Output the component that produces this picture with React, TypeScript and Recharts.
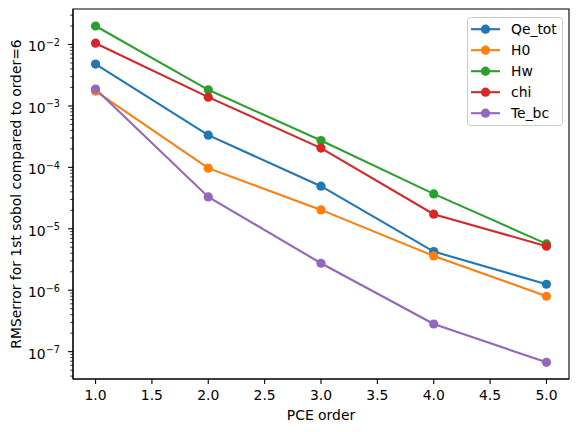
import React from "react";
import {
  LineChart,
  Line,
  XAxis,
  YAxis,
  Legend,
  ReferenceArea,
} from "recharts";

const ORDERS = [1, 2, 3, 4, 5];

const QE_TOT = [4.8e-3, 3.34e-4, 4.94e-5, 4.26e-6, 1.25e-6];
const H0 = [1.74e-3, 9.7e-5, 2.03e-5, 3.62e-6, 7.98e-7];
const HW = [2.0e-2, 1.83e-3, 2.73e-4, 3.7e-5, 5.68e-6];
const CHI = [1.05e-2, 1.39e-3, 2.06e-4, 1.73e-5, 5.21e-6];
const TE_BC = [1.88e-3, 3.3e-5, 2.75e-6, 2.82e-7, 6.7e-8];

const X_TICKS = [1.0, 1.5, 2.0, 2.5, 3.0, 3.5, 4.0, 4.5, 5.0];
const Y_MAJOR = [1e-7, 1e-6, 1e-5, 1e-4, 1e-3, 1e-2];

const X_DOMAIN: [number, number] = [0.8, 5.2];
const Y_DOMAIN: [number, number] = [3.59e-8, 3.78e-2];

const SERIES = [
  { key: "Qe_tot", values: QE_TOT, color: "#1f77b4" },
  { key: "H0", values: H0, color: "#ff7f0e" },
  { key: "Hw", values: HW, color: "#2ca02c" },
  { key: "chi", values: CHI, color: "#d62728" },
  { key: "Te_bc", values: TE_BC, color: "#9467bd" },
];

const data = ORDERS.map((order, i) => {
  const row: Record<string, number> = { order };
  SERIES.forEach((s) => (row[s.key] = s.values[i]));
  return row;
});

// major decades plus the 2..9 minor marks inside the visible range
const Y_TICKS: number[] = [];
for (let e = -8; e <= -2; e++) {
  for (let m = 1; m <= 9; m++) {
    const v = m * Math.pow(10, e);
    if (v >= Y_DOMAIN[0] && v <= Y_DOMAIN[1]) Y_TICKS.push(v);
  }
}

const FONT = "'DejaVu Sans', sans-serif";

function isMajor(v: number) {
  return Y_MAJOR.some((m) => Math.abs(Math.log10(v) - Math.log10(m)) < 1e-6);
}

function YTick({ x, y, payload }: any) {
  const v = payload.value as number;
  const major = isMajor(v);
  const e = Math.round(Math.log10(v));
  return (
    <g>
      <line
        x1={x}
        x2={x - (major ? 4.9 : 2.8)}
        y1={y}
        y2={y}
        stroke="#000"
        strokeWidth={major ? 1.1 : 0.8}
      />
      {major && (
        <text
          x={x - 13}
          y={y + 7}
          textAnchor="end"
          fontFamily={FONT}
          fontSize={13.9}
          fill="#000"
        >
          <tspan>10</tspan>
          <tspan dy={-5.5} fontSize={9.7}>
            {"\u2212" + Math.abs(e)}
          </tspan>
        </text>
      )}
    </g>
  );
}

function XTick({ x, y, payload }: any) {
  return (
    <g>
      <line x1={x} x2={x} y1={y} y2={y + 4.9} stroke="#000" strokeWidth={1.1} />
      <text
        x={x}
        y={y + 20.5}
        textAnchor="middle"
        fontFamily={FONT}
        fontSize={13.9}
        fill="#000"
      >
        {(payload.value as number).toFixed(1)}
      </text>
    </g>
  );
}

function LegendBox() {
  return (
    <svg width={96} height={109} style={{ display: "block" }}>
      <rect
        x={0.5}
        y={0.5}
        width={95}
        height={108}
        rx={3}
        fill="#fff"
        fillOpacity={0.8}
        stroke="#cccccc"
      />
      {SERIES.map((s, i) => {
        const cy = 12.2 + i * 21;
        return (
          <g key={s.key}>
            <line x1={4} x2={33} y1={cy} y2={cy} stroke={s.color} strokeWidth={2.1} />
            <circle cx={18.5} cy={cy} r={4.6} fill={s.color} />
            <text
              x={44}
              y={cy + 5}
              fontFamily={FONT}
              fontSize={13.9}
              fill="#000"
            >
              {s.key}
            </text>
          </g>
        );
      })}
    </svg>
  );
}

export default function App() {
  return (
    <div
      style={{
        position: "absolute",
        left: 0,
        top: 0,
        width: 578,
        height: 432,
        background: "#fff",
      }}
    >
      <LineChart
        width={578}
        height={432}
        data={data}
        margin={{ top: 9, right: 9, left: 0, bottom: 0 }}
      >
        <XAxis
          dataKey="order"
          type="number"
          domain={X_DOMAIN}
          allowDataOverflow
          ticks={X_TICKS}
          interval={0}
          height={53}
          tickSize={0}
          tickMargin={0}
          tickLine={false}
          tick={<XTick />}
          axisLine={{ stroke: "#000", strokeWidth: 1.1 }}
          label={{
            content: () => (
              <text
                x={321}
                y={420}
                textAnchor="middle"
                fontFamily={FONT}
                fontSize={13.9}
                fill="#000"
              >
                PCE order
              </text>
            ),
          }}
        />
        <YAxis
          scale="log"
          domain={Y_DOMAIN}
          allowDataOverflow
          ticks={Y_TICKS}
          interval={0}
          width={73}
          tickSize={0}
          tickMargin={0}
          tickLine={false}
          tick={<YTick />}
          axisLine={{ stroke: "#000", strokeWidth: 1.1 }}
          label={{
            content: () => (
              <text
                x={16}
                y={194}
                transform="rotate(-90 16 194)"
                textAnchor="middle"
                dominantBaseline="central"
                fontFamily={FONT}
                fontSize={13.9}
                fill="#000"
              >
                RMSerror for 1st sobol compared to order=6
              </text>
            ),
          }}
        />
        <ReferenceArea
          x1={X_DOMAIN[0]}
          x2={X_DOMAIN[1]}
          y1={Y_DOMAIN[0]}
          y2={Y_DOMAIN[1]}
          fill="none"
          stroke="#000"
          strokeWidth={1.1}
          ifOverflow="visible"
        />
        {SERIES.map((s) => (
          <Line
            key={s.key}
            type="linear"
            dataKey={s.key}
            name={s.key}
            stroke={s.color}
            strokeWidth={2.1}
            dot={{ r: 4.6, fill: s.color, stroke: "none" }}
            activeDot={false}
            isAnimationActive={false}
          />
        ))}
        <Legend
          layout="vertical"
          align="center"
          verticalAlign="middle"
          content={<LegendBox />}
          wrapperStyle={{ top: 17, left: 467, width: 96, height: 109 }}
        />
      </LineChart>
    </div>
  );
}
